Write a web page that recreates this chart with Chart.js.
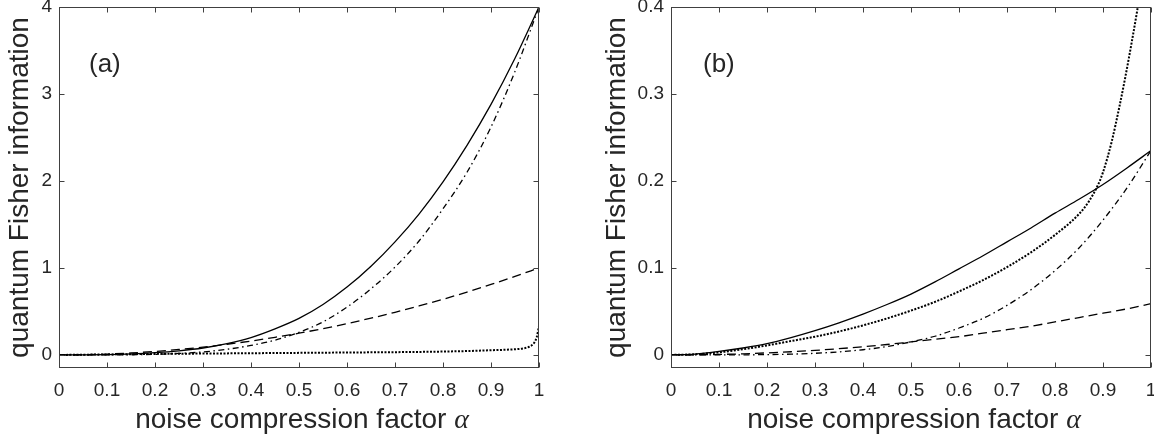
<!DOCTYPE html>
<html>
<head>
<meta charset="utf-8">
<script src="https://cdn.jsdelivr.net/npm/chart.js@4.4.1/dist/chart.umd.min.js"></script>
<style>
  html, body { margin: 0; padding: 0; background: #fff; }
  #wrap { position: relative; width: 1154px; height: 441px; }
  canvas { position: absolute; top: 0; }
</style>
</head>
<body>
<div id="wrap">
  <canvas id="chartA" width="577" height="441" style="left:0"></canvas>
  <canvas id="chartB" width="577" height="441" style="left:577px"></canvas>
</div>
<script>
// tick values / labels
const xTicks = [0, 0.1, 0.2, 0.3, 0.4, 0.5, 0.6, 0.7, 0.8, 0.9, 1];
const xTickLabels = ['0', '0.1', '0.2', '0.3', '0.4', '0.5', '0.6', '0.7', '0.8', '0.9', '1'];
const yTicksA = [0, 1, 2, 3, 4];
const yTickLabelsA = ['0', '1', '2', '3', '4'];
const yTicksB = [0, 0.1, 0.2, 0.3, 0.4];
const yTickLabelsB = ['0', '0.1', '0.2', '0.3', '0.4'];

// noise compression factor alpha
const alpha = [0, 0.05, 0.1, 0.15, 0.2, 0.25, 0.3, 0.35, 0.4, 0.45, 0.5,
               0.55, 0.6, 0.65, 0.7, 0.75, 0.8, 0.85, 0.9, 0.95, 1];

// panel (a)
const solidA   = [0, 0.0005, 0.004, 0.012, 0.026, 0.048, 0.08, 0.13, 0.2, 0.3, 0.42,
                  0.58, 0.78, 1.02, 1.3, 1.62, 1.99, 2.41, 2.88, 3.41, 4.0];
const dashedA  = [0, 0.003, 0.01, 0.023, 0.04, 0.063, 0.09, 0.123, 0.16, 0.203, 0.25,
                  0.303, 0.36, 0.423, 0.49, 0.563, 0.64, 0.723, 0.81, 0.903, 1.0];
const dashDotA = [0, 0, 0.0005, 0.002, 0.007, 0.017, 0.035, 0.065, 0.11, 0.17, 0.26,
                  0.38, 0.55, 0.76, 1.01, 1.31, 1.68, 2.1, 2.62, 3.26, 4.0];
const alphaDotA = [0, 0.05, 0.1, 0.15, 0.2, 0.25, 0.3, 0.35, 0.4, 0.45, 0.5, 0.55, 0.6,
                   0.65, 0.7, 0.75, 0.8, 0.85, 0.9, 0.95, 0.97, 0.98, 0.99, 0.995, 1];
const dottedA  = [0, 0.003, 0.006, 0.009, 0.012, 0.014, 0.016, 0.018, 0.02, 0.022, 0.024, 0.026, 0.028,
                  0.03, 0.032, 0.035, 0.039, 0.045, 0.054, 0.066, 0.078, 0.095, 0.14, 0.2, 0.33];

// panel (b)
const solidB   = [0, 0.001, 0.004, 0.008, 0.013, 0.02, 0.028, 0.037, 0.047, 0.058, 0.07,
                  0.084, 0.099, 0.114, 0.13, 0.146, 0.163, 0.179, 0.196, 0.215, 0.235];
const dashedB  = [0, 0.0002, 0.0006, 0.0013, 0.0024, 0.0037, 0.0053, 0.0072, 0.0094, 0.012, 0.015,
                  0.018, 0.021, 0.025, 0.029, 0.033, 0.038, 0.043, 0.048, 0.053, 0.059];
const dashDotB = [0, 0, 0.00003, 0.0001, 0.0004, 0.0009, 0.0019, 0.0035, 0.006, 0.0096, 0.015,
                  0.0215, 0.031, 0.042, 0.057, 0.075, 0.097, 0.123, 0.155, 0.192, 0.235];
const alphaDotB = [0, 0.05, 0.1, 0.15, 0.2, 0.25, 0.3, 0.35, 0.4, 0.45, 0.5, 0.55, 0.6, 0.65,
                   0.7, 0.75, 0.8, 0.85, 0.87, 0.89, 0.9, 0.918, 0.934, 0.946, 0.96, 0.971, 0.98];
const dottedB  = [0, 0.0008, 0.003, 0.0065, 0.011, 0.016, 0.021, 0.027, 0.034, 0.042, 0.051, 0.061, 0.073, 0.086,
                  0.101, 0.118, 0.138, 0.162, 0.176, 0.196, 0.21, 0.245, 0.285, 0.318, 0.36, 0.395, 0.425];

const SANS = "'Liberation Sans', Arial, Helvetica, sans-serif";
const INK = '#262626';

function pts(xs, ys) {
  return xs.map((x, i) => ({ x: x, y: ys[i] }));
}

function line(data, dash, width) {
  return {
    data: data,
    borderColor: '#000',
    borderWidth: width || 1.3,
    borderDash: dash,
    pointRadius: 0,
    fill: false,
    cubicInterpolationMode: 'monotone'
  };
}

// box with inward ticks on all four sides, plus panel letter and x title
const frame = {
  id: 'frame',
  afterDraw(chart, args, opts) {
    const { ctx, chartArea: a, scales: { x, y } } = chart;
    const L = Math.round(a.left) + 0.5, R = Math.round(a.right) - 0.5;
    const T = Math.round(a.top) + 0.5, B = Math.round(a.bottom) - 0.5;
    ctx.save();
    ctx.strokeStyle = '#404040';
    ctx.lineWidth = 1;
    ctx.strokeRect(L, T, R - L, B - T);
    ctx.beginPath();
    x.ticks.forEach(t => {
      const px = Math.round(x.getPixelForValue(t.value)) + 0.5;
      ctx.moveTo(px, B); ctx.lineTo(px, B - 5);
      ctx.moveTo(px, T); ctx.lineTo(px, T + 5);
    });
    y.ticks.forEach(t => {
      const py = Math.round(y.getPixelForValue(t.value)) + 0.5;
      ctx.moveTo(L, py); ctx.lineTo(L + 5, py);
      ctx.moveTo(R, py); ctx.lineTo(R - 5, py);
    });
    ctx.stroke();

    ctx.fillStyle = INK;
    ctx.textBaseline = 'alphabetic';
    ctx.textAlign = 'left';
    ctx.font = '26px ' + SANS;
    ctx.fillText(opts.label, a.left + opts.labelDx, 72);

    const t1 = 'noise compression factor ';
    ctx.font = '28px ' + SANS;
    const w1 = ctx.measureText(t1).width;
    ctx.font = "italic 28px 'Liberation Serif', 'DejaVu Serif', serif";
    const w2 = ctx.measureText('\u03b1').width;
    const x0 = (a.left + a.right) / 2 + 3 - (w1 + w2) / 2;
    ctx.font = '28px ' + SANS;
    ctx.fillText(t1, x0, 428);
    ctx.font = "italic 28px 'Liberation Serif', 'DejaVu Serif', serif";
    ctx.fillText('\u03b1', x0 + w1, 428);
    ctx.restore();
  }
};

function makeChart(id, datasets, yMin, yMax, yTicks, yLabels, yWidth, padRight, titlePad, label, labelDx) {
  return new Chart(document.getElementById(id), {
    type: 'line',
    data: { datasets: datasets },
    plugins: [frame],
    options: {
      responsive: false,
      animation: false,
      layout: { padding: { top: 7, right: padRight, left: 0, bottom: 0 } },
      plugins: {
        legend: { display: false },
        tooltip: { enabled: false },
        frame: { label: label, labelDx: labelDx }
      },
      scales: {
        x: {
          type: 'linear',
          min: 0,
          max: 1,
          grid: { display: false, drawTicks: false },
          border: { display: false },
          afterBuildTicks: s => { s.ticks = xTicks.map(v => ({ value: v })); },
          afterFit: s => { s.height = 73; s.paddingLeft = 0; s.paddingRight = 0; },
          ticks: {
            padding: 11,
            maxRotation: 0,
            autoSkip: false,
            color: INK,
            font: { family: SANS, size: 19 },
            callback: (v, i) => xTickLabels[i]
          }
        },
        y: {
          min: yMin,
          max: yMax,
          grid: { display: false, drawTicks: false },
          border: { display: false },
          afterBuildTicks: s => { s.ticks = yTicks.map(v => ({ value: v })); },
          afterFit: s => { s.width = yWidth; s.paddingTop = 0; s.paddingBottom = 0; },
          ticks: {
            padding: 7,
            autoSkip: false,
            color: INK,
            font: { family: SANS, size: 19 },
            callback: (v, i) => yLabels[i]
          },
          title: {
            display: true,
            text: 'quantum Fisher information',
            color: INK,
            font: { family: SANS, size: 28 },
            padding: { top: titlePad, bottom: 0 }
          }
        }
      }
    }
  });
}

makeChart('chartA', [
  line(pts(alpha, solidA), []),
  line(pts(alpha, dashedA), [9, 5]),
  line(pts(alpha, dashDotA), [6, 3.5, 1.5, 3.5]),
  line(pts(alphaDotA, dottedA), [2, 1.5], 2)
], -0.15, 4, yTicksA, yTickLabelsA, 59, 38, 3, '(a)', 30);

makeChart('chartB', [
  line(pts(alpha, solidB), []),
  line(pts(alpha, dashedB), [9, 5]),
  line(pts(alpha, dashDotB), [6, 3.5, 1.5, 3.5]),
  line(pts(alphaDotB, dottedB), [2, 1.5], 2)
], -0.015, 0.4, yTicksB, yTickLabelsB, 94, 3, 23, '(b)', 32);
</script>
</body>
</html>
